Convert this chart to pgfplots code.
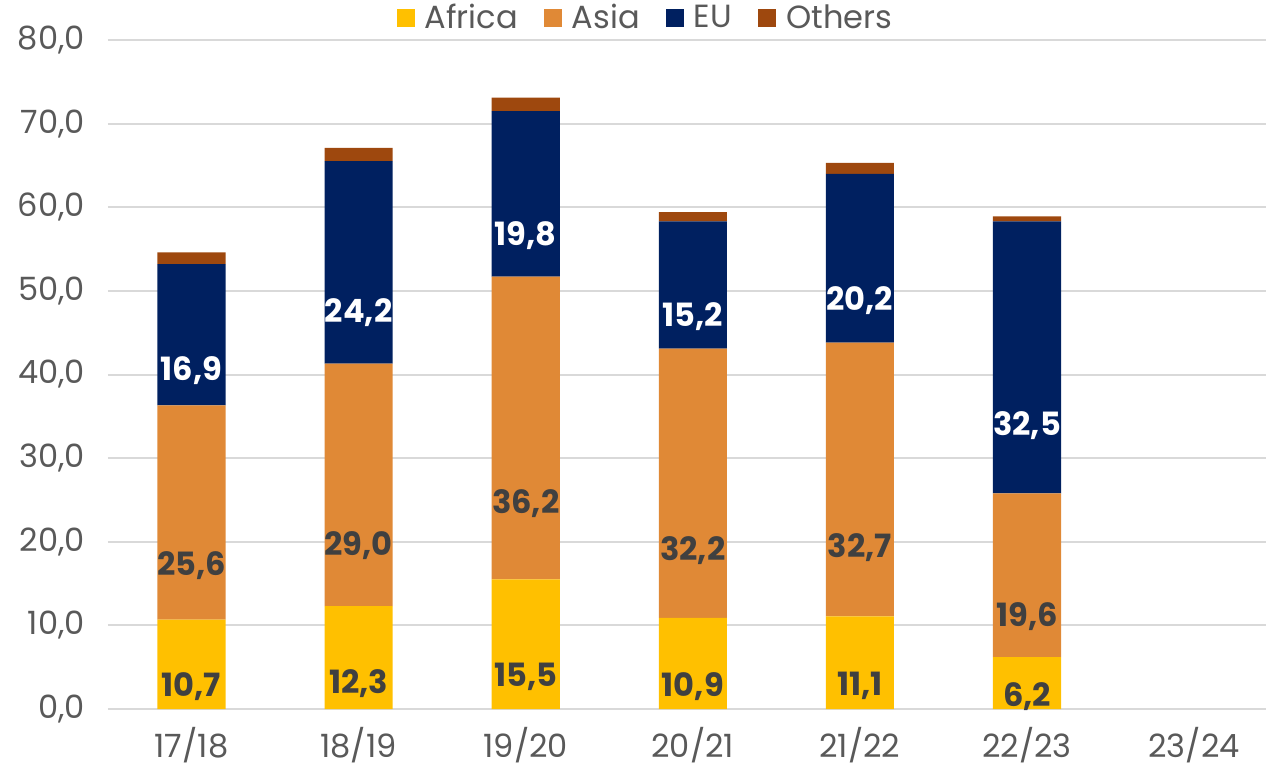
\documentclass[border=0pt]{standalone}
\usepackage{fontspec}
\setmainfont{Poppins}
\usepackage{pgfplots}
\pgfplotsset{compat=1.18}
\definecolor{cAfrica}{HTML}{FFC000}
\definecolor{cAsia}{HTML}{E08936}
\definecolor{cEU}{HTML}{002060}
\definecolor{cOth}{HTML}{9E480E}
\definecolor{txt}{HTML}{595959}
\definecolor{lbl}{HTML}{404040}
\definecolor{grd}{HTML}{D9D9D9}

\pgfplotstableread{
x Africa Asia EU Others
0 10.7 25.6 16.9 1.4
1 12.3 29.0 24.2 1.6
2 15.5 36.2 19.8 1.6
3 10.9 32.2 15.2 1.1
4 11.1 32.7 20.2 1.3
5 6.2 19.6 32.5 0.6
}\data

\begin{document}
\begin{tikzpicture}
\begin{axis}[
  scale only axis,
  width=578pt,height=334pt,
  ybar stacked,bar width=34pt,
  xmin=-0.5,xmax=6.43,
  ymin=0,ymax=80,ytick={0,10,...,80},
  xtick={0,...,6},
  xticklabels={17/18,18/19,19/20,20/21,21/22,22/23,23/24},
  axis line style={draw=none},
  major tick length=0pt,
  ymajorgrids,
  major grid style={draw=grd,line width=1pt},
  ticklabel style={font=\fontsize{16}{19}\selectfont,text=txt},
  /pgf/number format/assume math mode=true,
  yticklabel={\pgfmathprintnumber[fixed,fixed zerofill,precision=1,use comma]{\tick}},
  yticklabel style={xshift=-8pt,text width=39pt,align=right},
  xticklabel style={yshift=-9pt,text height=11.5pt,text depth=3.5pt},
  legend style={at={(0.465,1.006)},anchor=south,draw=none,fill=none,
    legend columns=4,font=\fontsize{16}{19}\selectfont,text=txt,
    /tikz/every odd column/.append style={column sep=3pt},
    /tikz/every even column/.append style={column sep=11pt},
    inner sep=0pt},
  legend image code/.code={\fill[#1] (0pt,-4.5pt) rectangle (9pt,4.5pt);},
  nodes near coords={\pgfmathprintnumber[fixed,fixed zerofill,precision=1,use comma,assume math mode=true]{\pgfplotspointmeta}},
  every node near coord/.append style={anchor=center,font=\fontsize{16}{19}\selectfont\bfseries,
    yshift={-0.25*\myval*4.175pt}},
]
\addplot[fill=cAfrica,draw=none,visualization depends on={\thisrow{Africa}\as\myval},
  every node near coord/.append style={text=lbl}] table[x=x,y=Africa]{\data};
\addlegendentry{Africa}
\addplot[fill=cAsia,draw=none,visualization depends on={\thisrow{Asia}\as\myval},
  every node near coord/.append style={text=lbl}] table[x=x,y=Asia]{\data};
\addlegendentry{Asia}
\addplot[fill=cEU,draw=none,visualization depends on={\thisrow{EU}\as\myval},
  every node near coord/.append style={text=white}] table[x=x,y=EU]{\data};
\addlegendentry{EU}
\addplot[fill=cOth,draw=none,visualization depends on={\thisrow{Others}\as\myval},
  nodes near coords={}] table[x=x,y=Others]{\data};
\addlegendentry{Others}
\end{axis}
\end{tikzpicture}
\end{document}
